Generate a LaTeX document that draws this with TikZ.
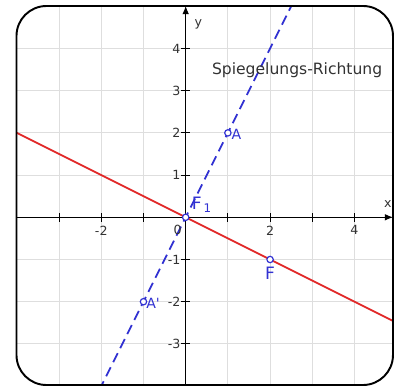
\documentclass[tikz,border=0pt]{standalone}
\usepackage{fontspec}
\setmainfont{DejaVu Sans}
\usetikzlibrary{arrows.meta}
\definecolor{gridgray}{RGB}{222,222,222}
\definecolor{ptblue}{RGB}{50,50,210}
\definecolor{linered}{RGB}{225,40,40}
\definecolor{txtgray}{RGB}{50,50,50}
\tikzset{
  gridline/.style={gridgray, line width=0.7pt},
  axisline/.style={black, line width=0.7pt, -{Latex[length=5.5pt,width=4.5pt]}},
  tickmark/.style={black, line width=0.7pt},
  ticklabel/.style={font=\fontsize{8.5}{10}\selectfont, text=txtgray, inner sep=0pt},
  ptlabel/.style={font=\fontsize{9.5}{10}\selectfont, text=ptblue, inner sep=0pt},
  biglabel/.style={font=\fontsize{11.5}{12}\selectfont, text=ptblue, inner sep=0pt},
  ptmark/.style={circle, draw=ptblue, fill=white, line width=0.8pt, minimum size=4.3pt, inner sep=0pt},
  frameline/.style={black, line width=1.3pt, rounded corners=0.71cm},
}
\begin{document}
\begin{tikzpicture}[x=1cm,y=1cm]
\useasboundingbox (-4.400,-4.021) rectangle (4.960,5.149);
\begin{scope}
\clip[rounded corners=0.71cm] (-4.009,-3.974) rectangle (4.912,5.007);
% grid
\foreach \i in {-4,...,4} \draw[gridline] (\i,-4.1) -- (\i,5.1);
\foreach \j in {-4,...,5} \draw[gridline] (-4.1,\j) -- (5.0,\j);
% red line
\draw[linered, line width=1.2pt] (-4.1,2.05) -- (5.0,-2.5);
% blue dashed line
\draw[ptblue, line width=1.2pt, dash pattern=on 6.8pt off 3.8pt] (-2.05,-4.1) -- (2.55,5.1);
\end{scope}
% axes
\coordinate (xl) at (-4.009,0);
\coordinate (xr) at (4.912,0);
\coordinate (yb) at (0,-3.974);
\coordinate (yt) at (0,5.007);
\draw[axisline] (xl) -- (xr);
\draw[axisline] (yb) -- (yt);
\foreach \i in {-3,...,-1,1,2,3,4} \draw[tickmark] (\i,-0.1) -- (\i,0.1);
\foreach \j in {-3,...,-1,1,2,3,4} \draw[tickmark] (-0.1,\j) -- (0.1,\j);
\foreach \i in {-2,2,4} \node[ticklabel] (xt\i) at (\i,-0.31) {\i};
\foreach \j in {-3,...,-1,1,2,3,4} \node[ticklabel, anchor=east] (yt\j) at (-0.12,\j) {\j};
\node[ticklabel, anchor=east] (zero) at (-0.09,-0.31) {0};
\node[ticklabel] (xlab) at (4.79,0.32) {x};
\node[ticklabel] (ylab) at (0.30,4.57) {y};
% points
\node[ptmark] (A) at (1,2) {};
\node[ptmark] (Ap) at (-1,-2) {};
\node[ptmark] (F) at (2,-1) {};
\node[ptmark] (F1) at (0,0) {};
\node[ptlabel, anchor=west] (Alab) at (1.08,1.97) {A};
\node[ptlabel, anchor=west] (Aplab) at (-0.94,-2.03) {A\textquotesingle};
\node[biglabel] (Flab) at (2.0,-1.33) {F};
\node[biglabel, anchor=west] (F1lab) at (0.14,0.30) {F\raisebox{-0.35ex}{\fontsize{8}{9}\selectfont\,1}};
\node[font=\fontsize{10.5}{12}\selectfont, text=txtgray, inner sep=0pt] (title) at (2.64,3.49) {Spiegelungs-Richtung};
% frame
\draw[frameline] (-4.009,-3.974) rectangle (4.912,5.007);
\end{tikzpicture}
\end{document}
